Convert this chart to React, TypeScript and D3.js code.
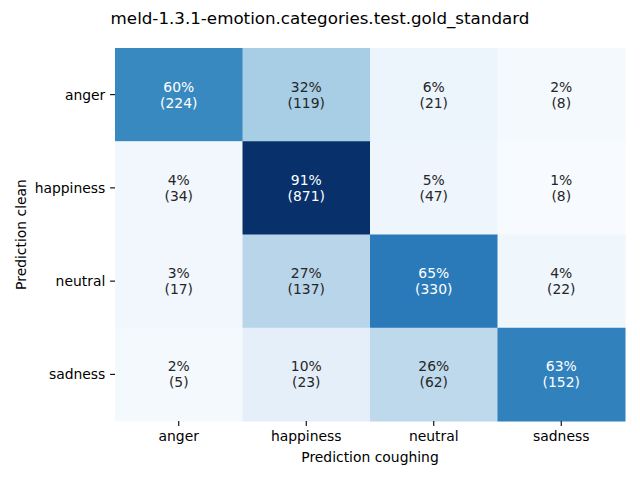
import React from "react";
import * as d3 from "d3";

const title = "meld-1.3.1-emotion.categories.test.gold_standard";
const rowLabels = ["anger", "happiness", "neutral", "sadness"];
const colLabels = ["anger", "happiness", "neutral", "sadness"];
const xAxisLabel = "Prediction coughing";
const yAxisLabel = "Prediction clean";
const counts: number[][] = [
  [224, 119, 21, 8],
  [34, 871, 47, 8],
  [17, 137, 330, 22],
  [5, 23, 62, 152],
];

const bluesStops = ["#f7fbff", "#deebf7", "#c6dbef", "#9ecae1", "#6baed6", "#4292c6", "#2171b5", "#08519c", "#08306b"];

export default function App() {
  const W = 640, H = 480;
  const left = 115, right = 625, top = 48, bottom = 421;
  const x = d3.scaleBand<string>().domain(colLabels).range([left, right]).padding(0);
  const y = d3.scaleBand<string>().domain(rowLabels).range([top, bottom]).padding(0);

  const pct = counts.map((row) => {
    const s = d3.sum(row);
    return row.map((v) => v / s);
  });
  const all = pct.flat();
  const [vmin, vmax] = d3.extent(all) as [number, number];
  const norm = d3.scaleLinear().domain([vmin, vmax]).range([0, 1]).clamp(true);
  const cmap = d3
    .scaleLinear<string>()
    .domain(bluesStops.map((_, i) => i / (bluesStops.length - 1)))
    .range(bluesStops)
    .interpolate(d3.interpolateRgb);

  const lum = (c: string) => {
    const rgb = d3.rgb(c);
    const f = (v: number) => {
      v = v / 255;
      return v <= 0.03928 ? v / 12.92 : Math.pow((v + 0.055) / 1.055, 2.4);
    };
    return 0.2126 * f(rgb.r) + 0.7152 * f(rgb.g) + 0.0722 * f(rgb.b);
  };

  const font = "DejaVu Sans, sans-serif";
  const fs = 13.9;

  return (
    <svg width={W} height={H} style={{ position: "absolute", left: 0, top: 0, background: "#fff" }} fontFamily={font}>
      <rect width={W} height={H} fill="#fff" />
      <text x={320} y={18} textAnchor="middle" dominantBaseline="central" fontSize={16.7} fill="#000">
        {title}
      </text>
      {rowLabels.map((r, i) =>
        colLabels.map((c, j) => {
          const col = cmap(norm(pct[i][j]));
          const tc = lum(col) < 0.408 ? "#ffffff" : "#262626";
          const cx = (x(c) as number) + x.bandwidth() / 2;
          const cy = (y(r) as number) + y.bandwidth() / 2;
          return (
            <g key={`${i}-${j}`}>
              <rect x={x(c)} y={y(r)} width={x.bandwidth() + 0.5} height={y.bandwidth() + 0.5} fill={col} />
              <text x={cx} y={cy - 8} textAnchor="middle" dominantBaseline="central" fontSize={fs} fill={tc}>
                {`${Math.round(pct[i][j] * 100)}%`}
              </text>
              <text x={cx} y={cy + 8} textAnchor="middle" dominantBaseline="central" fontSize={fs} fill={tc}>
                {`(${counts[i][j]})`}
              </text>
            </g>
          );
        })
      )}
      {colLabels.map((c) => {
        const cx = (x(c) as number) + x.bandwidth() / 2;
        return (
          <g key={`xt-${c}`}>
            <line x1={cx} x2={cx} y1={bottom} y2={bottom + 4.9} stroke="#000" strokeWidth={1.1} />
            <text x={cx} y={bottom + 9.7} textAnchor="middle" dominantBaseline="hanging" fontSize={fs} fill="#000">
              {c}
            </text>
          </g>
        );
      })}
      {rowLabels.map((r) => {
        const cy = (y(r) as number) + y.bandwidth() / 2;
        return (
          <g key={`yt-${r}`}>
            <line x1={left - 4.9} x2={left} y1={cy} y2={cy} stroke="#000" strokeWidth={1.1} />
            <text x={left - 9.7} y={cy} textAnchor="end" dominantBaseline="central" fontSize={fs} fill="#000">
              {r}
            </text>
          </g>
        );
      })}
      <text x={(left + right) / 2} y={457} textAnchor="middle" dominantBaseline="central" fontSize={fs} fill="#000">
        {xAxisLabel}
      </text>
      <text
        transform={`translate(21,${(top + bottom) / 2}) rotate(-90)`}
        textAnchor="middle"
        dominantBaseline="central"
        fontSize={fs}
        fill="#000"
      >
        {yAxisLabel}
      </text>
    </svg>
  );
}
